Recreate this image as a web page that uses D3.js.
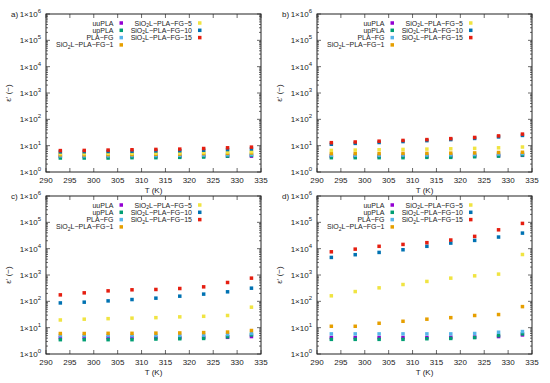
<!DOCTYPE html>
<meta charset="utf-8">
<head>
<script src="https://d3js.org/d3.v7.min.js"></script>
<style>
  body { margin: 0; background: white; }
  text { font-family: "Liberation Sans", Arial, sans-serif; font-size: 8px; fill: #222; }
  .legend text { font-size: 7px; }
</style>
</head>
<body>
<svg id="chart" width="550" height="383"></svg>
<script>
// temperatures (K)
var temps = [293, 298, 303, 308, 313, 318, 323, 328, 333];
var seriesNames = ["uuPLA", "upPLA", "PLA-FG", "SiO2L-PLA-FG-1", "SiO2L-PLA-FG-5", "SiO2L-PLA-FG-10", "SiO2L-PLA-FG-15"];
var colors = ["#9400d3", "#009e73", "#56b4e9", "#e69f00", "#f0e442", "#0072b2", "#e51e10"];
var xTicks = [290, 295, 300, 305, 310, 315, 320, 325, 330, 335];
var yExps = [0, 1, 2, 3, 4, 5, 6];

// epsilon' values, one row per series (same order as seriesNames)
var panelA = [
  [3.9, 3.9, 3.9, 3.9, 3.9, 3.9, 4.0, 4.0, 4.0],
  [3.4, 3.4, 3.4, 3.5, 3.5, 3.6, 3.7, 4.0, 4.3],
  [4.1, 4.1, 4.1, 4.2, 4.2, 4.3, 4.4, 4.5, 4.6],
  [4.5, 4.5, 4.6, 4.6, 4.7, 4.8, 5.0, 5.1, 5.3],
  [5.0, 5.0, 5.1, 5.1, 5.2, 5.3, 5.5, 5.7, 5.9],
  [5.8, 5.9, 6.0, 6.1, 6.3, 6.4, 6.7, 7.1, 7.5],
  [6.5, 6.6, 6.8, 7.0, 7.2, 7.4, 7.8, 8.3, 8.8]
];
var panelB = [
  [4.0, 4.0, 4.0, 4.0, 4.0, 4.0, 4.1, 4.2, 4.3],
  [3.5, 3.5, 3.5, 3.5, 3.6, 3.6, 3.8, 4.0, 4.4],
  [4.3, 4.3, 4.3, 4.4, 4.4, 4.5, 4.6, 4.8, 5.0],
  [5.0, 5.0, 5.0, 5.1, 5.1, 5.2, 5.3, 5.5, 5.6],
  [6.6, 6.8, 7.0, 7.2, 7.4, 7.6, 7.9, 8.3, 8.9],
  [11.3, 12.2, 13.2, 14.3, 15.5, 17.0, 18.8, 21.5, 24.5],
  [13, 13.8, 14.8, 15.8, 17, 18.5, 20.5, 23.5, 27.5]
];
var panelC = [
  [4.2, 4.2, 4.2, 4.2, 4.2, 4.2, 4.3, 4.3, 4.6],
  [3.5, 3.5, 3.5, 3.5, 3.7, 3.8, 3.9, 4.5, 5.3],
  [5.0, 5.0, 5.0, 5.0, 5.1, 5.1, 5.2, 5.5, 6.0],
  [6.0, 6.0, 6.1, 6.1, 6.2, 6.3, 6.5, 6.8, 7.8],
  [19.6, 21, 22, 23, 24, 25.7, 27, 29, 60],
  [87, 93, 104, 117, 132, 157, 188, 230, 316],
  [176, 210, 250, 274, 282, 307, 355, 520, 760]
];
var panelD = [
  [4.2, 4.2, 4.2, 4.2, 4.2, 4.3, 4.4, 4.6, 5.3],
  [3.6, 3.6, 3.6, 3.6, 3.8, 3.9, 4.2, 5.0, 5.8],
  [5.8, 5.8, 5.8, 5.8, 5.8, 5.8, 6.0, 6.7, 7.1],
  [11.3, 11.3, 14.7, 17.5, 21, 24, 29, 31.5, 63],
  [162, 235, 325, 435, 570, 760, 930, 1080, 6000],
  [4650, 5900, 7200, 9100, 12300, 16300, 20600, 27600, 39000],
  [7600, 9600, 12300, 14500, 16900, 21300, 29300, 52000, 91000]
];

var panels = [
  {label: "a)", data: panelA, left: 46, top: 14},
  {label: "b)", data: panelB, left: 317, top: 14},
  {label: "c)", data: panelC, left: 46, top: 196},
  {label: "d)", data: panelD, left: 317, top: 196}
];
var pw = 215, ph = 158;

var svg = d3.select("#chart");

// writes names like SiO2L with a subscript 2
function addName(sel, name) {
  var m = name.match(/^SiO2(.*)$/);
  if (m) {
    sel.append("tspan").text("SiO");
    sel.append("tspan").attr("font-size", "5px").attr("dy", 1.5).text("2");
    sel.append("tspan").attr("dy", -1.5).text(m[1].replace(/-/g, "\u2212"));
  } else {
    sel.text(name.replace(/-/g, "\u2212"));
  }
}

panels.forEach(function(p) {
  var g = svg.append("g").attr("transform", "translate(" + p.left + "," + p.top + ")");
  var x = d3.scaleLinear().domain([290, 335]).range([0, pw]);
  var y = d3.scaleLog().domain([1, 1e6]).range([ph, 0]);

  // ticks (inward, mirrored)
  var minors = [];
  yExps.slice(0, -1).forEach(function(e) {
    for (var k = 2; k < 10; k++) minors.push(k * Math.pow(10, e));
  });
  var tk = g.append("g").attr("stroke", "#444").attr("stroke-width", 0.8);
  xTicks.forEach(function(t) {
    tk.append("line").attr("x1", x(t)).attr("x2", x(t)).attr("y1", ph).attr("y2", ph - 4);
    tk.append("line").attr("x1", x(t)).attr("x2", x(t)).attr("y1", 0).attr("y2", 4);
  });
  yExps.forEach(function(e) {
    var v = Math.pow(10, e);
    tk.append("line").attr("x1", 0).attr("x2", 4).attr("y1", y(v)).attr("y2", y(v));
    tk.append("line").attr("x1", pw).attr("x2", pw - 4).attr("y1", y(v)).attr("y2", y(v));
  });
  minors.forEach(function(v) {
    tk.append("line").attr("x1", 0).attr("x2", 2).attr("y1", y(v)).attr("y2", y(v));
    tk.append("line").attr("x1", pw).attr("x2", pw - 2).attr("y1", y(v)).attr("y2", y(v));
  });

  // frame
  g.append("rect").attr("width", pw).attr("height", ph)
    .attr("fill", "none").attr("stroke", "#222").attr("stroke-width", 1);

  // tick labels
  xTicks.forEach(function(t) {
    g.append("text").attr("x", x(t)).attr("y", ph + 11)
      .attr("text-anchor", "middle").text(t);
  });
  yExps.forEach(function(e) {
    var t = g.append("text").attr("x", -5).attr("y", y(Math.pow(10, e)) + 3)
      .attr("text-anchor", "end");
    t.append("tspan").text("1\u00d710");
    t.append("tspan").attr("font-size", "6px").attr("dy", -4).text(e);
  });

  // axis titles and panel label
  g.append("text").attr("x", pw / 2).attr("y", ph + 21)
    .attr("text-anchor", "middle").text("T (K)");
  g.append("text").attr("transform", "translate(-35," + (ph / 2) + ") rotate(-90)")
    .attr("text-anchor", "middle").text("\u03b5' (\u2212)");
  g.append("text").attr("x", -35).attr("y", 3).text(p.label);

  // points
  p.data.forEach(function(row, i) {
    g.append("g").selectAll("rect").data(row).join("rect")
      .attr("x", function(d, j) { return x(temps[j]) - 1.75; })
      .attr("y", function(d) { return y(d) - 1.75; })
      .attr("width", 3.5).attr("height", 3.5)
      .attr("fill", colors[i]);
  });

  // legend, two columns, right-justified text
  var lg = g.append("g").attr("class", "legend");
  seriesNames.forEach(function(name, i) {
    var col = i < 4 ? 0 : 1, row = i < 4 ? i : i - 4;
    var tx = col === 0 ? 67.5 : 146;
    var ty = 9 + row * 7.3;
    var t = lg.append("text").attr("x", tx).attr("y", ty + 2.5)
      .attr("text-anchor", "end");
    addName(t, name);
    lg.append("rect").attr("x", tx + 6).attr("y", ty - 1.75)
      .attr("width", 3.5).attr("height", 3.5).attr("fill", colors[i]);
  });
});
</script>
</body>
